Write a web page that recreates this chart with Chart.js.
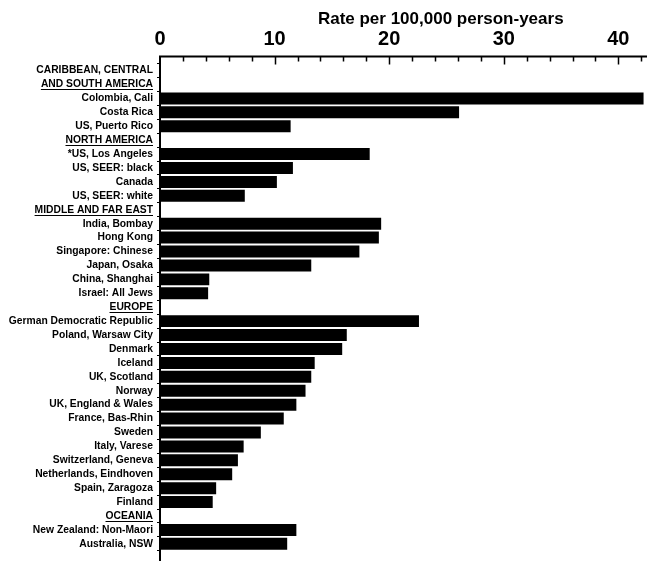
<!DOCTYPE html>
<html>
<head>
<meta charset="utf-8">
<script src="https://cdn.jsdelivr.net/npm/chart.js@4/dist/chart.umd.min.js"></script>
<style>
  html, body { margin: 0; padding: 0; background: #fff; }
  canvas { display: block; }
</style>
</head>
<body>
<canvas id="rates" width="650" height="561"></canvas>
<script>
// Registry rows, grouped by region; region headings carry no bar.
const regionLabels = [
  'CARIBBEAN, CENTRAL',
  'AND SOUTH AMERICA',
  'Colombia, Cali',
  'Costa Rica',
  'US, Puerto Rico',
  'NORTH AMERICA',
  '*US, Los Angeles',
  'US, SEER: black',
  'Canada',
  'US, SEER: white',
  'MIDDLE AND FAR EAST',
  'India, Bombay',
  'Hong Kong',
  'Singapore: Chinese',
  'Japan, Osaka',
  'China, Shanghai',
  'Israel: All Jews',
  'EUROPE',
  'German Democratic Republic',
  'Poland, Warsaw City',
  'Denmark',
  'Iceland',
  'UK, Scotland',
  'Norway',
  'UK, England & Wales',
  'France, Bas-Rhin',
  'Sweden',
  'Italy, Varese',
  'Switzerland, Geneva',
  'Netherlands, Eindhoven',
  'Spain, Zaragoza',
  'Finland',
  'OCEANIA',
  'New Zealand: Non-Maori',
  'Australia, NSW'
];

// Rate per 100,000 person-years (null for heading rows)
const rates = [
  null, null, 42.2, 26.1, 11.4,
  null, 18.3, 11.6, 10.2, 7.4,
  null, 19.3, 19.1, 17.4, 13.2, 4.3, 4.2,
  null, 22.6, 16.3, 15.9, 13.5, 13.2, 12.7, 11.9, 10.8, 8.8, 7.3, 6.8, 6.3, 4.9, 4.6,
  null, 11.9, 11.1
];

// Headings that are underlined
const underlinedLabels = ['AND SOUTH AMERICA', 'NORTH AMERICA', 'MIDDLE AND FAR EAST', 'EUROPE', 'OCEANIA'];

const axisTitle = 'Rate per 100,000 person-years';
const axisMax = 42.5;
const majorStep = 10;
const minorStep = 2;

const FONT = '"Liberation Sans", Arial, Helvetica, sans-serif';
const LABEL_FONT = { family: FONT, size: 10.3, weight: 'bold' };
const Y_TICK_LEN = 3;
const Y_TICK_PAD = 4;

// Draws the top axis line with inward ticks, the left axis line,
// the heading underlines and the axis title.
const framePlugin = {
  id: 'frame',
  afterDraw(chart) {
    const { ctx, chartArea, scales } = chart;
    const xs = scales.x, ys = scales.y;
    const top = chartArea.top - 7;
    ctx.save();
    ctx.strokeStyle = '#000';
    ctx.lineCap = 'butt';

    // axis lines
    ctx.lineWidth = 2;
    ctx.beginPath();
    ctx.moveTo(chartArea.left - 1, top);
    ctx.lineTo(chartArea.right, top);
    ctx.moveTo(chartArea.left, top);
    ctx.lineTo(chartArea.left, chart.height);
    ctx.stroke();

    // inward ticks, longer at each labelled value
    ctx.lineWidth = 1.5;
    ctx.beginPath();
    for (let v = minorStep; v <= xs.max; v += minorStep) {
      const px = Math.round(xs.getPixelForValue(v)) + 0.5;
      const len = (v % majorStep === 0) ? 8 : 5;
      ctx.moveTo(px, top);
      ctx.lineTo(px, top + len);
    }
    ctx.stroke();

    // underline headings
    ctx.font = `bold ${LABEL_FONT.size}px ${FONT}`;
    ctx.lineWidth = 1.2;
    const right = chartArea.left - Y_TICK_LEN - Y_TICK_PAD;
    ctx.beginPath();
    regionLabels.forEach((lab, i) => {
      if (!underlinedLabels.includes(lab)) return;
      const w = ctx.measureText(lab).width;
      const yy = Math.round(ys.getPixelForTick(i) + 5) + 0.5;
      ctx.moveTo(right - w, yy);
      ctx.lineTo(right, yy);
    });
    ctx.stroke();

    // axis title
    ctx.fillStyle = '#000';
    ctx.font = `bold 17px ${FONT}`;
    ctx.textAlign = 'center';
    ctx.textBaseline = 'middle';
    ctx.fillText(axisTitle, xs.getPixelForValue(24.5), 19);
    ctx.restore();
  }
};

new Chart(document.getElementById('rates'), {
  type: 'bar',
  data: {
    labels: regionLabels,
    datasets: [{
      data: rates,
      backgroundColor: '#000',
      borderWidth: 0,
      barPercentage: 0.86,
      categoryPercentage: 1.0
    }]
  },
  options: {
    indexAxis: 'y',
    responsive: false,
    animation: false,
    devicePixelRatio: 1,
    layout: { padding: { left: 0, right: 3, top: 0, bottom: 2 } },
    plugins: {
      legend: { display: false },
      tooltip: { enabled: false }
    },
    scales: {
      x: {
        type: 'linear',
        position: 'top',
        min: 0,
        max: axisMax,
        grid: { display: false, drawTicks: false },
        border: { display: false },
        ticks: {
          stepSize: majorStep,
          includeBounds: false,
          maxRotation: 0,
          color: '#000',
          padding: 12,
          font: { family: FONT, size: 20, weight: 'bold' }
        },
        afterFit(s) { s.height = 63.6; }
      },
      y: {
        type: 'category',
        grid: {
          display: true,
          drawOnChartArea: false,
          drawTicks: true,
          tickLength: Y_TICK_LEN,
          offset: true,
          color: '#000'
        },
        border: { display: false },
        ticks: {
          autoSkip: false,
          color: '#000',
          padding: Y_TICK_PAD,
          font: LABEL_FONT
        },
        afterFit(s) { s.width = 160; }
      }
    }
  },
  plugins: [framePlugin]
});
</script>
</body>
</html>
